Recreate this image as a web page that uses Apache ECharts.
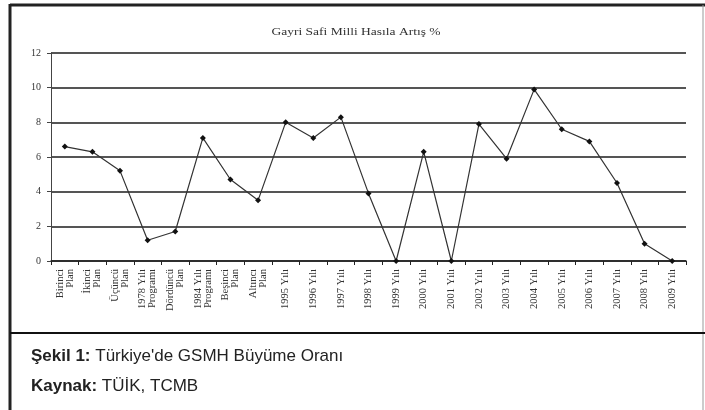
<!DOCTYPE html>
<html>
<head>
<meta charset="utf-8">
<script src="https://cdn.jsdelivr.net/npm/echarts@6/dist/echarts.min.js"></script>
<style>
html,body{margin:0;padding:0;background:#fff;}
#chart{width:705px;height:410px;}
</style>
</head>
<body>
<div id="chart"></div>
<script>
var categories = ['Birinci\nPlan','İkinci\nPlan','Üçüncü\nPlan','1978 Yılı\nProgramı','Dördüncü\nPlan','1984 Yılı\nProgramı','Beşinci\nPlan','Altıncı\nPlan',
	'1995 Yılı','1996 Yılı','1997 Yılı','1998 Yılı','1999 Yılı','2000 Yılı','2001 Yılı','2002 Yılı','2003 Yılı','2004 Yılı',
	'2005 Yılı','2006 Yılı','2007 Yılı','2008 Yılı','2009 Yılı'];
var growth = [6.6,6.3,5.2,1.2,1.7,7.1,4.7,3.5,8.0,7.1,8.3,3.9,0,6.3,0,7.9,5.9,9.9,7.6,6.9,4.5,1.0,0];
var yTicks = [0,2,4,6,8,10,12];

var chart = echarts.init(document.getElementById('chart'));

var option = {
	animation : false,
	backgroundColor : '#fff',
	grid : {left : 51, right : 19, top : 53, bottom : 149},
	xAxis : {
		type : 'category',
		data : categories,
		boundaryGap : true,
		axisLine : {lineStyle : {color : '#222', width : 1.5}},
		axisTick : {show : true, alignWithLabel : false, length : 4, lineStyle : {color : '#222'}},
		axisLabel : {
			rotate : 90,
			interval : 0,
			margin : 8,
			fontFamily : 'Liberation Serif',
			fontSize : 10.5,
			lineHeight : 10,
			color : '#333'
		}
	},
	yAxis : {
		type : 'value',
		min : yTicks[0],
		max : yTicks[yTicks.length-1],
		interval : 2,
		axisLine : {show : true, lineStyle : {color : '#444', width : 1}},
		axisTick : {show : true, length : 4, lineStyle : {color : '#444'}},
		axisLabel : {margin : 10, fontFamily : 'Liberation Serif', fontSize : 10, color : '#333'},
		splitLine : {lineStyle : {color : '#555', width : 2}}
	},
	series : [{
		type : 'line',
		data : growth,
		symbol : 'diamond',
		symbolSize : 6,
		lineStyle : {color : '#333', width : 1.2},
		itemStyle : {color : '#111'}
	}],
	graphic : [
		{
			type : 'text', x : 356, y : 32, scaleX : 1.35,
			style : {
				text : 'Gayri Safi Milli Hasıla Artış %',
				fontFamily : 'Liberation Serif', fontSize : 10, fill : '#333',
				textAlign : 'center', textVerticalAlign : 'middle'
			}
		},
		{type : 'line', shape : {x1 : 10, y1 : 5, x2 : 705, y2 : 5}, style : {stroke : '#222', lineWidth : 3}},
		{type : 'line', shape : {x1 : 10, y1 : 4, x2 : 10, y2 : 410}, style : {stroke : '#222', lineWidth : 3}},
		{type : 'line', shape : {x1 : 703, y1 : 5, x2 : 703, y2 : 410}, style : {stroke : '#999', lineWidth : 1}},
		{type : 'line', shape : {x1 : 10, y1 : 333, x2 : 705, y2 : 333}, style : {stroke : '#111', lineWidth : 2}},
		{
			type : 'text', left : 31, top : 348,
			style : {
				text : '{b|Şekil 1:} Türkiye\'de GSMH Büyüme Oranı',
				fontFamily : 'Liberation Sans', fontSize : 17, fill : '#222',
				rich : {b : {fontWeight : 'bold', fontFamily : 'Liberation Sans', fontSize : 17}}
			}
		},
		{
			type : 'text', left : 31, top : 378,
			style : {
				text : '{b|Kaynak:} TÜİK, TCMB',
				fontFamily : 'Liberation Sans', fontSize : 17, fill : '#222',
				rich : {b : {fontWeight : 'bold', fontFamily : 'Liberation Sans', fontSize : 17}}
			}
		}
	]
};

chart.setOption(option);
</script>
</body>
</html>
